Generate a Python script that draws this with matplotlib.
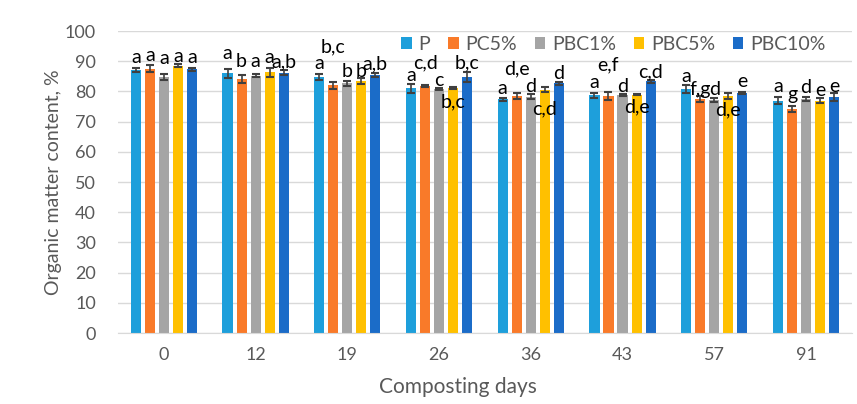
import numpy as np
import matplotlib
matplotlib.use('Agg')
import matplotlib.pyplot as plt

plt.rcParams['font.family'] = ['Lato', 'DejaVu Sans']

days = ['0', '12', '19', '26', '36', '43', '57', '91']
series = ['P', 'PC5%', 'PBC1%', 'PBC5%', 'PBC10%']

p      = [87.2, 86.0, 84.7, 81.0, 77.5, 78.8, 80.8, 77.0]
pc5    = [87.6, 84.2, 82.0, 81.7, 78.5, 78.5, 77.5, 74.2]
pbc1   = [84.8, 85.2, 82.7, 80.9, 78.3, 78.8, 77.3, 77.5]
pbc5   = [88.6, 86.4, 83.4, 81.2, 80.6, 79.0, 78.5, 77.0]
pbc10  = [87.4, 86.2, 85.5, 84.8, 82.8, 83.4, 79.5, 78.2]

p_err     = [0.7, 1.5, 1.0, 1.5, 0.5, 0.8, 1.4, 1.3]
pc5_err   = [1.3, 1.3, 1.3, 0.3, 1.0, 1.2, 1.0, 1.1]
pbc1_err  = [1.0, 0.5, 0.8, 0.3, 0.8, 0.3, 0.7, 0.7]
pbc5_err  = [0.4, 1.5, 1.0, 0.3, 0.8, 0.3, 1.1, 0.7]
pbc10_err = [0.5, 0.8, 0.6, 1.5, 0.5, 0.5, 0.4, 1.4]

# significance letters, per series
p_let     = ['a', 'a', 'a', 'a', 'a', 'a', 'a', 'a']
pc5_let   = ['a', 'b', 'b,c', 'c,d', 'd,e', 'e,f', 'f,g', 'g']
pbc1_let  = ['a', 'a', 'b', 'c', 'd', 'd', 'd', 'd']
pbc5_let  = ['a', 'a', 'b', 'b,c', 'c,d', 'd,e', 'd,e', 'e']
pbc10_let = ['a', 'a,b', 'a,b', 'b,c', 'd', 'c,d', 'e', 'e']

# where the letters sit (centre, in axis units)
p_lab     = [91.4, 92.6, 89.3, 85.4, 81.1, 83.1, 84.8, 81.8]
pc5_lab   = [91.8, 89.9, 94.8, 89.4, 87.6, 88.7, 80.8, 79.0]
pbc1_lab  = [91.0, 89.9, 86.6, 83.8, 81.7, 81.8, 80.5, 81.3]
pbc5_lab  = [91.6, 91.2, 86.6, 76.6, 74.2, 74.9, 73.8, 80.2]
pbc10_lab = [91.2, 89.9, 89.3, 89.4, 86.1, 86.5, 83.2, 81.8]

vals = [p, pc5, pbc1, pbc5, pbc10]
errs = [p_err, pc5_err, pbc1_err, pbc5_err, pbc10_err]
lets = [p_let, pc5_let, pbc1_let, pbc5_let, pbc10_let]
labs = [p_lab, pc5_lab, pbc1_lab, pbc5_lab, pbc10_lab]
colors = ['#1E9FDB', '#F97A29', '#A5A5A5', '#FFC000', '#1B6CC8']

fig = plt.figure(figsize=(8.57, 4.04), dpi=100)
ax = fig.add_axes([0.1377, 0.1757, 0.8563, 0.7473])

x = np.arange(len(days))
w = 0.11
step = 0.153
for i in range(len(series)):
    xs = x + (i - 2) * step
    ax.bar(xs, vals[i], w, color=colors[i], label=series[i], zorder=2)
    ax.errorbar(xs, vals[i], yerr=errs[i], fmt='none', ecolor='#404040',
                elinewidth=1.2, capsize=3, capthick=1.5, zorder=3)
    for j in range(len(days)):
        ax.text(xs[j], labs[i][j], lets[i][j], ha='center', va='center',
                fontsize=14, color='black', zorder=4)

ax.set_xlim(-0.5, len(days) - 0.5)
ax.set_ylim(0, 100)
ax.set_yticks(range(0, 101, 10))
ax.set_xticks(x)
ax.set_xticklabels(days)
ax.yaxis.grid(True, color='#D9D9D9', lw=1, zorder=0)
ax.set_axisbelow(True)
for s in ['top', 'right', 'left']:
    ax.spines[s].set_visible(False)
ax.spines['bottom'].set_color('#D9D9D9')
ax.tick_params(axis='both', length=0, labelsize=13, labelcolor='#595959')
ax.tick_params(axis='x', pad=10)
ax.tick_params(axis='y', pad=16)
ax.set_ylabel('Organic matter content, %', fontsize=14, color='#595959', labelpad=2)
ax.set_xlabel('Composting days', fontsize=15, color='#595959', labelpad=8)
ax.xaxis.set_label_coords(0.463, -0.145)

leg = ax.legend(loc='center', bbox_to_anchor=(0.675, 0.955), ncol=5, frameon=False,
                fontsize=14, handlelength=0.55, handleheight=0.55, handletextpad=0.35,
                columnspacing=0.9, borderaxespad=0)
for t in leg.get_texts():
    t.set_color('#595959')

fig.savefig('out.png', dpi=100)
